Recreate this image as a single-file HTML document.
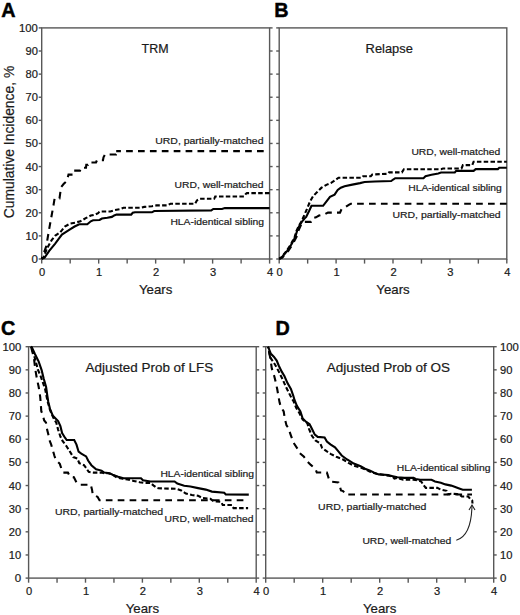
<!DOCTYPE html>
<html><head><meta charset="utf-8"><style>
html,body{margin:0;padding:0;background:#fff;}
svg{display:block;font-family:"Liberation Sans", sans-serif;}
</style></head><body>
<svg width="520" height="615" viewBox="0 0 520 615">
<rect width="520" height="615" fill="#fff"/>
<rect x="41.70" y="27.90" width="227.90" height="231.10" fill="none" stroke="#585858" stroke-width="1.4"/>
<line x1="38.70" y1="259.00" x2="41.70" y2="259.00" stroke="#585858" stroke-width="1.4"/>
<line x1="269.60" y1="259.00" x2="272.60" y2="259.00" stroke="#585858" stroke-width="1.4"/>
<line x1="38.70" y1="235.89" x2="41.70" y2="235.89" stroke="#585858" stroke-width="1.4"/>
<line x1="269.60" y1="235.89" x2="272.60" y2="235.89" stroke="#585858" stroke-width="1.4"/>
<line x1="38.70" y1="212.78" x2="41.70" y2="212.78" stroke="#585858" stroke-width="1.4"/>
<line x1="269.60" y1="212.78" x2="272.60" y2="212.78" stroke="#585858" stroke-width="1.4"/>
<line x1="38.70" y1="189.67" x2="41.70" y2="189.67" stroke="#585858" stroke-width="1.4"/>
<line x1="269.60" y1="189.67" x2="272.60" y2="189.67" stroke="#585858" stroke-width="1.4"/>
<line x1="38.70" y1="166.56" x2="41.70" y2="166.56" stroke="#585858" stroke-width="1.4"/>
<line x1="269.60" y1="166.56" x2="272.60" y2="166.56" stroke="#585858" stroke-width="1.4"/>
<line x1="38.70" y1="143.45" x2="41.70" y2="143.45" stroke="#585858" stroke-width="1.4"/>
<line x1="269.60" y1="143.45" x2="272.60" y2="143.45" stroke="#585858" stroke-width="1.4"/>
<line x1="38.70" y1="120.34" x2="41.70" y2="120.34" stroke="#585858" stroke-width="1.4"/>
<line x1="269.60" y1="120.34" x2="272.60" y2="120.34" stroke="#585858" stroke-width="1.4"/>
<line x1="38.70" y1="97.23" x2="41.70" y2="97.23" stroke="#585858" stroke-width="1.4"/>
<line x1="269.60" y1="97.23" x2="272.60" y2="97.23" stroke="#585858" stroke-width="1.4"/>
<line x1="38.70" y1="74.12" x2="41.70" y2="74.12" stroke="#585858" stroke-width="1.4"/>
<line x1="269.60" y1="74.12" x2="272.60" y2="74.12" stroke="#585858" stroke-width="1.4"/>
<line x1="38.70" y1="51.01" x2="41.70" y2="51.01" stroke="#585858" stroke-width="1.4"/>
<line x1="269.60" y1="51.01" x2="272.60" y2="51.01" stroke="#585858" stroke-width="1.4"/>
<line x1="38.70" y1="27.90" x2="41.70" y2="27.90" stroke="#585858" stroke-width="1.4"/>
<line x1="269.60" y1="27.90" x2="272.60" y2="27.90" stroke="#585858" stroke-width="1.4"/>
<line x1="41.70" y1="259.00" x2="41.70" y2="263.60" stroke="#585858" stroke-width="1.4"/>
<line x1="70.19" y1="259.00" x2="70.19" y2="263.60" stroke="#585858" stroke-width="1.4"/>
<line x1="98.68" y1="259.00" x2="98.68" y2="263.60" stroke="#585858" stroke-width="1.4"/>
<line x1="127.16" y1="259.00" x2="127.16" y2="263.60" stroke="#585858" stroke-width="1.4"/>
<line x1="155.65" y1="259.00" x2="155.65" y2="263.60" stroke="#585858" stroke-width="1.4"/>
<line x1="184.14" y1="259.00" x2="184.14" y2="263.60" stroke="#585858" stroke-width="1.4"/>
<line x1="212.62" y1="259.00" x2="212.62" y2="263.60" stroke="#585858" stroke-width="1.4"/>
<line x1="241.11" y1="259.00" x2="241.11" y2="263.60" stroke="#585858" stroke-width="1.4"/>
<line x1="269.60" y1="259.00" x2="269.60" y2="263.60" stroke="#585858" stroke-width="1.4"/>
<rect x="279.20" y="27.90" width="227.60" height="231.10" fill="none" stroke="#585858" stroke-width="1.4"/>
<line x1="276.20" y1="259.00" x2="279.20" y2="259.00" stroke="#585858" stroke-width="1.4"/>
<line x1="276.20" y1="235.89" x2="279.20" y2="235.89" stroke="#585858" stroke-width="1.4"/>
<line x1="276.20" y1="212.78" x2="279.20" y2="212.78" stroke="#585858" stroke-width="1.4"/>
<line x1="276.20" y1="189.67" x2="279.20" y2="189.67" stroke="#585858" stroke-width="1.4"/>
<line x1="276.20" y1="166.56" x2="279.20" y2="166.56" stroke="#585858" stroke-width="1.4"/>
<line x1="276.20" y1="143.45" x2="279.20" y2="143.45" stroke="#585858" stroke-width="1.4"/>
<line x1="276.20" y1="120.34" x2="279.20" y2="120.34" stroke="#585858" stroke-width="1.4"/>
<line x1="276.20" y1="97.23" x2="279.20" y2="97.23" stroke="#585858" stroke-width="1.4"/>
<line x1="276.20" y1="74.12" x2="279.20" y2="74.12" stroke="#585858" stroke-width="1.4"/>
<line x1="276.20" y1="51.01" x2="279.20" y2="51.01" stroke="#585858" stroke-width="1.4"/>
<line x1="276.20" y1="27.90" x2="279.20" y2="27.90" stroke="#585858" stroke-width="1.4"/>
<line x1="279.20" y1="259.00" x2="279.20" y2="263.60" stroke="#585858" stroke-width="1.4"/>
<line x1="307.65" y1="259.00" x2="307.65" y2="263.60" stroke="#585858" stroke-width="1.4"/>
<line x1="336.10" y1="259.00" x2="336.10" y2="263.60" stroke="#585858" stroke-width="1.4"/>
<line x1="364.55" y1="259.00" x2="364.55" y2="263.60" stroke="#585858" stroke-width="1.4"/>
<line x1="393.00" y1="259.00" x2="393.00" y2="263.60" stroke="#585858" stroke-width="1.4"/>
<line x1="421.45" y1="259.00" x2="421.45" y2="263.60" stroke="#585858" stroke-width="1.4"/>
<line x1="449.90" y1="259.00" x2="449.90" y2="263.60" stroke="#585858" stroke-width="1.4"/>
<line x1="478.35" y1="259.00" x2="478.35" y2="263.60" stroke="#585858" stroke-width="1.4"/>
<line x1="506.80" y1="259.00" x2="506.80" y2="263.60" stroke="#585858" stroke-width="1.4"/>
<rect x="28.60" y="346.70" width="227.60" height="231.40" fill="none" stroke="#585858" stroke-width="1.4"/>
<line x1="25.60" y1="578.10" x2="28.60" y2="578.10" stroke="#585858" stroke-width="1.4"/>
<line x1="256.20" y1="578.10" x2="259.20" y2="578.10" stroke="#585858" stroke-width="1.4"/>
<line x1="25.60" y1="554.96" x2="28.60" y2="554.96" stroke="#585858" stroke-width="1.4"/>
<line x1="256.20" y1="554.96" x2="259.20" y2="554.96" stroke="#585858" stroke-width="1.4"/>
<line x1="25.60" y1="531.82" x2="28.60" y2="531.82" stroke="#585858" stroke-width="1.4"/>
<line x1="256.20" y1="531.82" x2="259.20" y2="531.82" stroke="#585858" stroke-width="1.4"/>
<line x1="25.60" y1="508.68" x2="28.60" y2="508.68" stroke="#585858" stroke-width="1.4"/>
<line x1="256.20" y1="508.68" x2="259.20" y2="508.68" stroke="#585858" stroke-width="1.4"/>
<line x1="25.60" y1="485.54" x2="28.60" y2="485.54" stroke="#585858" stroke-width="1.4"/>
<line x1="256.20" y1="485.54" x2="259.20" y2="485.54" stroke="#585858" stroke-width="1.4"/>
<line x1="25.60" y1="462.40" x2="28.60" y2="462.40" stroke="#585858" stroke-width="1.4"/>
<line x1="256.20" y1="462.40" x2="259.20" y2="462.40" stroke="#585858" stroke-width="1.4"/>
<line x1="25.60" y1="439.26" x2="28.60" y2="439.26" stroke="#585858" stroke-width="1.4"/>
<line x1="256.20" y1="439.26" x2="259.20" y2="439.26" stroke="#585858" stroke-width="1.4"/>
<line x1="25.60" y1="416.12" x2="28.60" y2="416.12" stroke="#585858" stroke-width="1.4"/>
<line x1="256.20" y1="416.12" x2="259.20" y2="416.12" stroke="#585858" stroke-width="1.4"/>
<line x1="25.60" y1="392.98" x2="28.60" y2="392.98" stroke="#585858" stroke-width="1.4"/>
<line x1="256.20" y1="392.98" x2="259.20" y2="392.98" stroke="#585858" stroke-width="1.4"/>
<line x1="25.60" y1="369.84" x2="28.60" y2="369.84" stroke="#585858" stroke-width="1.4"/>
<line x1="256.20" y1="369.84" x2="259.20" y2="369.84" stroke="#585858" stroke-width="1.4"/>
<line x1="25.60" y1="346.70" x2="28.60" y2="346.70" stroke="#585858" stroke-width="1.4"/>
<line x1="256.20" y1="346.70" x2="259.20" y2="346.70" stroke="#585858" stroke-width="1.4"/>
<line x1="28.60" y1="578.10" x2="28.60" y2="582.70" stroke="#585858" stroke-width="1.4"/>
<line x1="57.05" y1="578.10" x2="57.05" y2="582.70" stroke="#585858" stroke-width="1.4"/>
<line x1="85.50" y1="578.10" x2="85.50" y2="582.70" stroke="#585858" stroke-width="1.4"/>
<line x1="113.95" y1="578.10" x2="113.95" y2="582.70" stroke="#585858" stroke-width="1.4"/>
<line x1="142.40" y1="578.10" x2="142.40" y2="582.70" stroke="#585858" stroke-width="1.4"/>
<line x1="170.85" y1="578.10" x2="170.85" y2="582.70" stroke="#585858" stroke-width="1.4"/>
<line x1="199.30" y1="578.10" x2="199.30" y2="582.70" stroke="#585858" stroke-width="1.4"/>
<line x1="227.75" y1="578.10" x2="227.75" y2="582.70" stroke="#585858" stroke-width="1.4"/>
<line x1="256.20" y1="578.10" x2="256.20" y2="582.70" stroke="#585858" stroke-width="1.4"/>
<rect x="265.70" y="346.70" width="228.00" height="231.40" fill="none" stroke="#585858" stroke-width="1.4"/>
<line x1="262.70" y1="578.10" x2="265.70" y2="578.10" stroke="#585858" stroke-width="1.4"/>
<line x1="493.70" y1="578.10" x2="496.70" y2="578.10" stroke="#585858" stroke-width="1.4"/>
<line x1="262.70" y1="554.96" x2="265.70" y2="554.96" stroke="#585858" stroke-width="1.4"/>
<line x1="493.70" y1="554.96" x2="496.70" y2="554.96" stroke="#585858" stroke-width="1.4"/>
<line x1="262.70" y1="531.82" x2="265.70" y2="531.82" stroke="#585858" stroke-width="1.4"/>
<line x1="493.70" y1="531.82" x2="496.70" y2="531.82" stroke="#585858" stroke-width="1.4"/>
<line x1="262.70" y1="508.68" x2="265.70" y2="508.68" stroke="#585858" stroke-width="1.4"/>
<line x1="493.70" y1="508.68" x2="496.70" y2="508.68" stroke="#585858" stroke-width="1.4"/>
<line x1="262.70" y1="485.54" x2="265.70" y2="485.54" stroke="#585858" stroke-width="1.4"/>
<line x1="493.70" y1="485.54" x2="496.70" y2="485.54" stroke="#585858" stroke-width="1.4"/>
<line x1="262.70" y1="462.40" x2="265.70" y2="462.40" stroke="#585858" stroke-width="1.4"/>
<line x1="493.70" y1="462.40" x2="496.70" y2="462.40" stroke="#585858" stroke-width="1.4"/>
<line x1="262.70" y1="439.26" x2="265.70" y2="439.26" stroke="#585858" stroke-width="1.4"/>
<line x1="493.70" y1="439.26" x2="496.70" y2="439.26" stroke="#585858" stroke-width="1.4"/>
<line x1="262.70" y1="416.12" x2="265.70" y2="416.12" stroke="#585858" stroke-width="1.4"/>
<line x1="493.70" y1="416.12" x2="496.70" y2="416.12" stroke="#585858" stroke-width="1.4"/>
<line x1="262.70" y1="392.98" x2="265.70" y2="392.98" stroke="#585858" stroke-width="1.4"/>
<line x1="493.70" y1="392.98" x2="496.70" y2="392.98" stroke="#585858" stroke-width="1.4"/>
<line x1="262.70" y1="369.84" x2="265.70" y2="369.84" stroke="#585858" stroke-width="1.4"/>
<line x1="493.70" y1="369.84" x2="496.70" y2="369.84" stroke="#585858" stroke-width="1.4"/>
<line x1="262.70" y1="346.70" x2="265.70" y2="346.70" stroke="#585858" stroke-width="1.4"/>
<line x1="493.70" y1="346.70" x2="496.70" y2="346.70" stroke="#585858" stroke-width="1.4"/>
<line x1="265.70" y1="578.10" x2="265.70" y2="582.70" stroke="#585858" stroke-width="1.4"/>
<line x1="294.20" y1="578.10" x2="294.20" y2="582.70" stroke="#585858" stroke-width="1.4"/>
<line x1="322.70" y1="578.10" x2="322.70" y2="582.70" stroke="#585858" stroke-width="1.4"/>
<line x1="351.20" y1="578.10" x2="351.20" y2="582.70" stroke="#585858" stroke-width="1.4"/>
<line x1="379.70" y1="578.10" x2="379.70" y2="582.70" stroke="#585858" stroke-width="1.4"/>
<line x1="408.20" y1="578.10" x2="408.20" y2="582.70" stroke="#585858" stroke-width="1.4"/>
<line x1="436.70" y1="578.10" x2="436.70" y2="582.70" stroke="#585858" stroke-width="1.4"/>
<line x1="465.20" y1="578.10" x2="465.20" y2="582.70" stroke="#585858" stroke-width="1.4"/>
<line x1="493.70" y1="578.10" x2="493.70" y2="582.70" stroke="#585858" stroke-width="1.4"/>
<text x="37.90" y="263.00" font-size="10.3" text-anchor="end" font-weight="normal" fill="#1a1a1a" stroke="#1a1a1a" stroke-width="0.2" textLength="6.4" lengthAdjust="spacingAndGlyphs">0</text>
<text x="37.90" y="239.89" font-size="10.3" text-anchor="end" font-weight="normal" fill="#1a1a1a" stroke="#1a1a1a" stroke-width="0.2" textLength="12.4" lengthAdjust="spacingAndGlyphs">10</text>
<text x="37.90" y="216.78" font-size="10.3" text-anchor="end" font-weight="normal" fill="#1a1a1a" stroke="#1a1a1a" stroke-width="0.2" textLength="12.4" lengthAdjust="spacingAndGlyphs">20</text>
<text x="37.90" y="193.67" font-size="10.3" text-anchor="end" font-weight="normal" fill="#1a1a1a" stroke="#1a1a1a" stroke-width="0.2" textLength="12.4" lengthAdjust="spacingAndGlyphs">30</text>
<text x="37.90" y="170.56" font-size="10.3" text-anchor="end" font-weight="normal" fill="#1a1a1a" stroke="#1a1a1a" stroke-width="0.2" textLength="12.4" lengthAdjust="spacingAndGlyphs">40</text>
<text x="37.90" y="147.45" font-size="10.3" text-anchor="end" font-weight="normal" fill="#1a1a1a" stroke="#1a1a1a" stroke-width="0.2" textLength="12.4" lengthAdjust="spacingAndGlyphs">50</text>
<text x="37.90" y="124.34" font-size="10.3" text-anchor="end" font-weight="normal" fill="#1a1a1a" stroke="#1a1a1a" stroke-width="0.2" textLength="12.4" lengthAdjust="spacingAndGlyphs">60</text>
<text x="37.90" y="101.23" font-size="10.3" text-anchor="end" font-weight="normal" fill="#1a1a1a" stroke="#1a1a1a" stroke-width="0.2" textLength="12.4" lengthAdjust="spacingAndGlyphs">70</text>
<text x="37.90" y="78.12" font-size="10.3" text-anchor="end" font-weight="normal" fill="#1a1a1a" stroke="#1a1a1a" stroke-width="0.2" textLength="12.4" lengthAdjust="spacingAndGlyphs">80</text>
<text x="37.90" y="55.01" font-size="10.3" text-anchor="end" font-weight="normal" fill="#1a1a1a" stroke="#1a1a1a" stroke-width="0.2" textLength="12.4" lengthAdjust="spacingAndGlyphs">90</text>
<text x="37.90" y="31.90" font-size="10.3" text-anchor="end" font-weight="normal" fill="#1a1a1a" stroke="#1a1a1a" stroke-width="0.2" textLength="18.8" lengthAdjust="spacingAndGlyphs">100</text>
<text x="21.20" y="582.10" font-size="10.3" text-anchor="end" font-weight="normal" fill="#1a1a1a" stroke="#1a1a1a" stroke-width="0.2" textLength="6.4" lengthAdjust="spacingAndGlyphs">0</text>
<text x="21.20" y="558.96" font-size="10.3" text-anchor="end" font-weight="normal" fill="#1a1a1a" stroke="#1a1a1a" stroke-width="0.2" textLength="12.4" lengthAdjust="spacingAndGlyphs">10</text>
<text x="21.20" y="535.82" font-size="10.3" text-anchor="end" font-weight="normal" fill="#1a1a1a" stroke="#1a1a1a" stroke-width="0.2" textLength="12.4" lengthAdjust="spacingAndGlyphs">20</text>
<text x="21.20" y="512.68" font-size="10.3" text-anchor="end" font-weight="normal" fill="#1a1a1a" stroke="#1a1a1a" stroke-width="0.2" textLength="12.4" lengthAdjust="spacingAndGlyphs">30</text>
<text x="21.20" y="489.54" font-size="10.3" text-anchor="end" font-weight="normal" fill="#1a1a1a" stroke="#1a1a1a" stroke-width="0.2" textLength="12.4" lengthAdjust="spacingAndGlyphs">40</text>
<text x="21.20" y="466.40" font-size="10.3" text-anchor="end" font-weight="normal" fill="#1a1a1a" stroke="#1a1a1a" stroke-width="0.2" textLength="12.4" lengthAdjust="spacingAndGlyphs">50</text>
<text x="21.20" y="443.26" font-size="10.3" text-anchor="end" font-weight="normal" fill="#1a1a1a" stroke="#1a1a1a" stroke-width="0.2" textLength="12.4" lengthAdjust="spacingAndGlyphs">60</text>
<text x="21.20" y="420.12" font-size="10.3" text-anchor="end" font-weight="normal" fill="#1a1a1a" stroke="#1a1a1a" stroke-width="0.2" textLength="12.4" lengthAdjust="spacingAndGlyphs">70</text>
<text x="21.20" y="396.98" font-size="10.3" text-anchor="end" font-weight="normal" fill="#1a1a1a" stroke="#1a1a1a" stroke-width="0.2" textLength="12.4" lengthAdjust="spacingAndGlyphs">80</text>
<text x="21.20" y="373.84" font-size="10.3" text-anchor="end" font-weight="normal" fill="#1a1a1a" stroke="#1a1a1a" stroke-width="0.2" textLength="12.4" lengthAdjust="spacingAndGlyphs">90</text>
<text x="21.20" y="350.70" font-size="10.3" text-anchor="end" font-weight="normal" fill="#1a1a1a" stroke="#1a1a1a" stroke-width="0.2" textLength="18.8" lengthAdjust="spacingAndGlyphs">100</text>
<text x="500.00" y="582.10" font-size="10.3" text-anchor="start" font-weight="normal" fill="#1a1a1a" stroke="#1a1a1a" stroke-width="0.2" textLength="6.4" lengthAdjust="spacingAndGlyphs">0</text>
<text x="500.00" y="558.96" font-size="10.3" text-anchor="start" font-weight="normal" fill="#1a1a1a" stroke="#1a1a1a" stroke-width="0.2" textLength="12.4" lengthAdjust="spacingAndGlyphs">10</text>
<text x="500.00" y="535.82" font-size="10.3" text-anchor="start" font-weight="normal" fill="#1a1a1a" stroke="#1a1a1a" stroke-width="0.2" textLength="12.4" lengthAdjust="spacingAndGlyphs">20</text>
<text x="500.00" y="512.68" font-size="10.3" text-anchor="start" font-weight="normal" fill="#1a1a1a" stroke="#1a1a1a" stroke-width="0.2" textLength="12.4" lengthAdjust="spacingAndGlyphs">30</text>
<text x="500.00" y="489.54" font-size="10.3" text-anchor="start" font-weight="normal" fill="#1a1a1a" stroke="#1a1a1a" stroke-width="0.2" textLength="12.4" lengthAdjust="spacingAndGlyphs">40</text>
<text x="500.00" y="466.40" font-size="10.3" text-anchor="start" font-weight="normal" fill="#1a1a1a" stroke="#1a1a1a" stroke-width="0.2" textLength="12.4" lengthAdjust="spacingAndGlyphs">50</text>
<text x="500.00" y="443.26" font-size="10.3" text-anchor="start" font-weight="normal" fill="#1a1a1a" stroke="#1a1a1a" stroke-width="0.2" textLength="12.4" lengthAdjust="spacingAndGlyphs">60</text>
<text x="500.00" y="420.12" font-size="10.3" text-anchor="start" font-weight="normal" fill="#1a1a1a" stroke="#1a1a1a" stroke-width="0.2" textLength="12.4" lengthAdjust="spacingAndGlyphs">70</text>
<text x="500.00" y="396.98" font-size="10.3" text-anchor="start" font-weight="normal" fill="#1a1a1a" stroke="#1a1a1a" stroke-width="0.2" textLength="12.4" lengthAdjust="spacingAndGlyphs">80</text>
<text x="500.00" y="373.84" font-size="10.3" text-anchor="start" font-weight="normal" fill="#1a1a1a" stroke="#1a1a1a" stroke-width="0.2" textLength="12.4" lengthAdjust="spacingAndGlyphs">90</text>
<text x="500.00" y="350.70" font-size="10.3" text-anchor="start" font-weight="normal" fill="#1a1a1a" stroke="#1a1a1a" stroke-width="0.2" textLength="18.8" lengthAdjust="spacingAndGlyphs">100</text>
<text x="42.20" y="275.90" font-size="10.3" text-anchor="middle" font-weight="normal" fill="#1a1a1a" stroke="#1a1a1a" stroke-width="0.2" textLength="6.2" lengthAdjust="spacingAndGlyphs">0</text>
<text x="99.18" y="275.90" font-size="10.3" text-anchor="middle" font-weight="normal" fill="#1a1a1a" stroke="#1a1a1a" stroke-width="0.2" textLength="6.2" lengthAdjust="spacingAndGlyphs">1</text>
<text x="156.15" y="275.90" font-size="10.3" text-anchor="middle" font-weight="normal" fill="#1a1a1a" stroke="#1a1a1a" stroke-width="0.2" textLength="6.2" lengthAdjust="spacingAndGlyphs">2</text>
<text x="213.12" y="275.90" font-size="10.3" text-anchor="middle" font-weight="normal" fill="#1a1a1a" stroke="#1a1a1a" stroke-width="0.2" textLength="6.2" lengthAdjust="spacingAndGlyphs">3</text>
<text x="270.10" y="275.90" font-size="10.3" text-anchor="middle" font-weight="normal" fill="#1a1a1a" stroke="#1a1a1a" stroke-width="0.2" textLength="6.2" lengthAdjust="spacingAndGlyphs">4</text>
<text x="279.70" y="275.90" font-size="10.3" text-anchor="middle" font-weight="normal" fill="#1a1a1a" stroke="#1a1a1a" stroke-width="0.2" textLength="6.2" lengthAdjust="spacingAndGlyphs">0</text>
<text x="336.60" y="275.90" font-size="10.3" text-anchor="middle" font-weight="normal" fill="#1a1a1a" stroke="#1a1a1a" stroke-width="0.2" textLength="6.2" lengthAdjust="spacingAndGlyphs">1</text>
<text x="393.50" y="275.90" font-size="10.3" text-anchor="middle" font-weight="normal" fill="#1a1a1a" stroke="#1a1a1a" stroke-width="0.2" textLength="6.2" lengthAdjust="spacingAndGlyphs">2</text>
<text x="450.40" y="275.90" font-size="10.3" text-anchor="middle" font-weight="normal" fill="#1a1a1a" stroke="#1a1a1a" stroke-width="0.2" textLength="6.2" lengthAdjust="spacingAndGlyphs">3</text>
<text x="507.30" y="275.90" font-size="10.3" text-anchor="middle" font-weight="normal" fill="#1a1a1a" stroke="#1a1a1a" stroke-width="0.2" textLength="6.2" lengthAdjust="spacingAndGlyphs">4</text>
<text x="29.10" y="594.80" font-size="10.3" text-anchor="middle" font-weight="normal" fill="#1a1a1a" stroke="#1a1a1a" stroke-width="0.2" textLength="6.2" lengthAdjust="spacingAndGlyphs">0</text>
<text x="86.00" y="594.80" font-size="10.3" text-anchor="middle" font-weight="normal" fill="#1a1a1a" stroke="#1a1a1a" stroke-width="0.2" textLength="6.2" lengthAdjust="spacingAndGlyphs">1</text>
<text x="142.90" y="594.80" font-size="10.3" text-anchor="middle" font-weight="normal" fill="#1a1a1a" stroke="#1a1a1a" stroke-width="0.2" textLength="6.2" lengthAdjust="spacingAndGlyphs">2</text>
<text x="199.80" y="594.80" font-size="10.3" text-anchor="middle" font-weight="normal" fill="#1a1a1a" stroke="#1a1a1a" stroke-width="0.2" textLength="6.2" lengthAdjust="spacingAndGlyphs">3</text>
<text x="256.70" y="594.80" font-size="10.3" text-anchor="middle" font-weight="normal" fill="#1a1a1a" stroke="#1a1a1a" stroke-width="0.2" textLength="6.2" lengthAdjust="spacingAndGlyphs">4</text>
<text x="266.20" y="594.80" font-size="10.3" text-anchor="middle" font-weight="normal" fill="#1a1a1a" stroke="#1a1a1a" stroke-width="0.2" textLength="6.2" lengthAdjust="spacingAndGlyphs">0</text>
<text x="323.20" y="594.80" font-size="10.3" text-anchor="middle" font-weight="normal" fill="#1a1a1a" stroke="#1a1a1a" stroke-width="0.2" textLength="6.2" lengthAdjust="spacingAndGlyphs">1</text>
<text x="380.20" y="594.80" font-size="10.3" text-anchor="middle" font-weight="normal" fill="#1a1a1a" stroke="#1a1a1a" stroke-width="0.2" textLength="6.2" lengthAdjust="spacingAndGlyphs">2</text>
<text x="437.20" y="594.80" font-size="10.3" text-anchor="middle" font-weight="normal" fill="#1a1a1a" stroke="#1a1a1a" stroke-width="0.2" textLength="6.2" lengthAdjust="spacingAndGlyphs">3</text>
<text x="494.20" y="594.80" font-size="10.3" text-anchor="middle" font-weight="normal" fill="#1a1a1a" stroke="#1a1a1a" stroke-width="0.2" textLength="6.2" lengthAdjust="spacingAndGlyphs">4</text>
<text x="155.65" y="294.10" font-size="12.4" text-anchor="middle" font-weight="normal" fill="#1a1a1a" stroke="#1a1a1a" stroke-width="0.2" textLength="33.4" lengthAdjust="spacingAndGlyphs">Years</text>
<text x="393.00" y="294.10" font-size="12.4" text-anchor="middle" font-weight="normal" fill="#1a1a1a" stroke="#1a1a1a" stroke-width="0.2" textLength="33.4" lengthAdjust="spacingAndGlyphs">Years</text>
<text x="142.40" y="612.70" font-size="12.4" text-anchor="middle" font-weight="normal" fill="#1a1a1a" stroke="#1a1a1a" stroke-width="0.2" textLength="33.4" lengthAdjust="spacingAndGlyphs">Years</text>
<text x="379.70" y="612.70" font-size="12.4" text-anchor="middle" font-weight="normal" fill="#1a1a1a" stroke="#1a1a1a" stroke-width="0.2" textLength="33.4" lengthAdjust="spacingAndGlyphs">Years</text>
<text x="1.20" y="16.70" font-size="19.8" text-anchor="start" font-weight="bold" fill="#000" stroke="#000" stroke-width="0.45">A</text>
<text x="274.20" y="16.70" font-size="19.8" text-anchor="start" font-weight="bold" fill="#000" stroke="#000" stroke-width="0.45">B</text>
<text x="1.00" y="334.80" font-size="19.8" text-anchor="start" font-weight="bold" fill="#000" stroke="#000" stroke-width="0.45">C</text>
<text x="275.40" y="334.80" font-size="19.8" text-anchor="start" font-weight="bold" fill="#000" stroke="#000" stroke-width="0.45">D</text>
<text x="141.60" y="52.60" font-size="12.6" text-anchor="start" font-weight="normal" fill="#1a1a1a" stroke="#1a1a1a" stroke-width="0.2" textLength="27.0" lengthAdjust="spacingAndGlyphs">TRM</text>
<text x="365.60" y="52.50" font-size="12.6" text-anchor="start" font-weight="normal" fill="#1a1a1a" stroke="#1a1a1a" stroke-width="0.2" textLength="47.2" lengthAdjust="spacingAndGlyphs">Relapse</text>
<text x="85.50" y="371.50" font-size="12.6" text-anchor="start" font-weight="normal" fill="#1a1a1a" stroke="#1a1a1a" stroke-width="0.2" textLength="127.7" lengthAdjust="spacingAndGlyphs">Adjusted Prob of LFS</text>
<text x="326.80" y="371.50" font-size="12.6" text-anchor="start" font-weight="normal" fill="#1a1a1a" stroke="#1a1a1a" stroke-width="0.2" textLength="123.3" lengthAdjust="spacingAndGlyphs">Adjusted Prob of OS</text>
<text transform="translate(14.4,218.3) rotate(-90)" x="0" y="0" font-size="13.8" fill="#1a1a1a" stroke="#1a1a1a" stroke-width="0.2" textLength="152.5" lengthAdjust="spacingAndGlyphs">Cumulative Incidence, %</text>
<text x="155.20" y="143.50" font-size="9.3" text-anchor="start" font-weight="normal" fill="#1a1a1a" stroke="#1a1a1a" stroke-width="0.2" textLength="108.3" lengthAdjust="spacingAndGlyphs">URD, partially-matched</text>
<text x="174.60" y="188.00" font-size="9.3" text-anchor="start" font-weight="normal" fill="#1a1a1a" stroke="#1a1a1a" stroke-width="0.2" textLength="88.9" lengthAdjust="spacingAndGlyphs">URD, well-matched</text>
<text x="170.40" y="225.00" font-size="9.3" text-anchor="start" font-weight="normal" fill="#1a1a1a" stroke="#1a1a1a" stroke-width="0.2" textLength="93.6" lengthAdjust="spacingAndGlyphs">HLA-identical sibling</text>
<text x="411.40" y="154.50" font-size="9.3" text-anchor="start" font-weight="normal" fill="#1a1a1a" stroke="#1a1a1a" stroke-width="0.2" textLength="88.9" lengthAdjust="spacingAndGlyphs">URD, well-matched</text>
<text x="408.20" y="191.30" font-size="9.3" text-anchor="start" font-weight="normal" fill="#1a1a1a" stroke="#1a1a1a" stroke-width="0.2" textLength="93.6" lengthAdjust="spacingAndGlyphs">HLA-identical sibling</text>
<text x="392.40" y="218.00" font-size="9.3" text-anchor="start" font-weight="normal" fill="#1a1a1a" stroke="#1a1a1a" stroke-width="0.2" textLength="108.3" lengthAdjust="spacingAndGlyphs">URD, partially-matched</text>
<text x="160.40" y="476.50" font-size="9.3" text-anchor="start" font-weight="normal" fill="#1a1a1a" stroke="#1a1a1a" stroke-width="0.2" textLength="93.6" lengthAdjust="spacingAndGlyphs">HLA-identical sibling</text>
<text x="54.90" y="514.50" font-size="9.3" text-anchor="start" font-weight="normal" fill="#1a1a1a" stroke="#1a1a1a" stroke-width="0.2" textLength="108.3" lengthAdjust="spacingAndGlyphs">URD, partially-matched</text>
<text x="164.60" y="522.40" font-size="9.3" text-anchor="start" font-weight="normal" fill="#1a1a1a" stroke="#1a1a1a" stroke-width="0.2" textLength="88.9" lengthAdjust="spacingAndGlyphs">URD, well-matched</text>
<text x="396.80" y="471.30" font-size="9.3" text-anchor="start" font-weight="normal" fill="#1a1a1a" stroke="#1a1a1a" stroke-width="0.2" textLength="93.6" lengthAdjust="spacingAndGlyphs">HLA-identical sibling</text>
<text x="318.10" y="510.40" font-size="9.3" text-anchor="start" font-weight="normal" fill="#1a1a1a" stroke="#1a1a1a" stroke-width="0.2" textLength="108.3" lengthAdjust="spacingAndGlyphs">URD, partially-matched</text>
<text x="362.40" y="544.20" font-size="9.3" text-anchor="start" font-weight="normal" fill="#1a1a1a" stroke="#1a1a1a" stroke-width="0.2" textLength="88.9" lengthAdjust="spacingAndGlyphs">URD, well-matched</text>
<path d="M456.3,540.2 C466,537.5 471.5,528 472,505.5" fill="none" stroke="#222" stroke-width="1.1"/>
<path d="M469,510 L472,505 L475,510" fill="none" stroke="#222" stroke-width="1.1"/>
<path d="M41.7,258.8 L46.3,246.2 L49.2,228.8 L51.5,216.2 L53.6,204.6 L54.6,198.5 L59.5,198.5 L60.4,191.9 L61.0,187.3 L63.8,183.8 L66.2,181.5 L67.9,176.9 L68.5,174.6 L73.0,174.6 L73.5,170.6 L80.0,170.6 L81.0,167.7 L86.0,167.7 L86.3,164.8 L88.0,164.8 L88.5,162.5 L96.0,162.5 L97.0,160.2 L103.0,160.2 L103.5,157.3 L105.0,154.5 L116.0,154.5 L116.2,151.1" fill="none" stroke="#000" stroke-width="2.1" stroke-linejoin="miter" stroke-dasharray="6.7,5.2" stroke-dashoffset="4.75"/>
<path d="M116.2,151.1 L268.0,151.1" fill="none" stroke="#000" stroke-width="2.1" stroke-linejoin="miter" stroke-dasharray="6.7,5.2" stroke-dashoffset="2.00"/>
<path d="M279.2,258.8 L282.3,257.5 L288.3,250.8 L292.9,243.8 L296.5,236.9 L298.2,231.2 L300.5,226.0 L303.2,221.9 L310.9,221.9 L312.5,218.2 L316.0,217.3 L319.0,215.5 L325.3,214.0 L328.0,212.6 L340.0,212.6 L341.5,209.2 L344.6,207.7 L349.2,204.6 L350.8,203.8 L506.8,203.8" fill="none" stroke="#000" stroke-width="2.1" stroke-linejoin="miter" stroke-dasharray="6.7,5.2" stroke-dashoffset="0.89"/>
<path d="M31.0,346.7 L33.9,357.7 L35.3,369.4 L36.8,378.2 L38.7,387.0 L40.2,396.8 L40.8,404.2 L41.3,411.2 L42.5,414.0 L44.2,420.4 L46.0,422.7 L47.1,429.6 L48.3,434.2 L49.4,440.0 L51.2,444.6 L52.9,450.4 L54.4,455.8 L55.8,459.8 L59.8,463.8 L61.8,469.9 L63.2,472.6 L67.9,472.6 L69.9,476.6 L73.9,477.3 L76.6,482.7 L80.0,484.7 L90.8,484.7 L92.1,490.1 L92.8,494.8 L97.5,496.8 L99.5,500.2 L243.5,500.2" fill="none" stroke="#000" stroke-width="2.1" stroke-linejoin="miter" stroke-dasharray="6.7,5.2" stroke-dashoffset="11.00"/>
<path d="M268.0,346.7 L270.4,358.7 L271.8,368.4 L274.3,376.3 L275.7,382.1 L277.2,389.0 L278.7,397.7 L279.6,402.6 L280.8,406.9 L283.7,411.5 L284.8,418.5 L286.5,425.4 L288.3,427.7 L290.6,434.6 L293.5,442.7 L298.1,449.6 L299.8,453.1 L304.0,456.8 L307.4,461.5 L310.8,464.9 L315.5,468.9 L316.8,472.5 L326.9,472.5 L328.9,479.0 L331.0,481.7 L338.4,482.4 L339.7,485.8 L341.0,490.5 L343.1,491.1 L345.8,494.5 L472.0,494.5" fill="none" stroke="#000" stroke-width="2.1" stroke-linejoin="miter" stroke-dasharray="6.7,5.2" stroke-dashoffset="6.66"/>
<path d="M41.7,258.8 L43.5,257.7 L46.9,248.5 L51.5,240.4 L55.0,235.8 L60.2,232.3 L64.8,226.5 L70.0,223.7 L75.8,222.5 L80.4,221.3 L86.2,217.9 L90.8,215.6 L95.0,214.6 L98.1,213.1 L99.6,211.5 L110.4,211.5 L115.0,210.0 L119.6,209.2 L123.5,207.7 L141.2,207.7 L144.2,206.9 L151.9,206.2 L156.5,205.4 L167.3,205.4 L170.4,203.8 L195.0,203.8 L196.9,200.4 L199.8,198.8 L214.2,198.8 L215.2,196.5 L244.0,196.5 L246.0,193.7 L246.9,193.1 L269.6,193.1" fill="none" stroke="#000" stroke-width="2.1" stroke-linejoin="miter" stroke-dasharray="4.5,2.3" stroke-dashoffset="0.42"/>
<path d="M279.2,258.8 L281.0,257.7 L286.6,250.8 L291.2,243.8 L294.7,236.9 L296.4,231.2 L298.7,226.0 L301.6,221.3 L302.8,218.5 L306.9,209.2 L310.0,201.5 L313.1,196.2 L316.9,192.3 L321.5,187.7 L326.9,184.6 L330.8,183.1 L335.4,180.0 L338.5,177.7 L361.5,177.7 L363.1,176.2 L370.8,176.2 L372.3,174.5 L387.8,173.8 L389.1,172.4 L401.9,172.4 L403.9,169.2 L441.0,169.2 L443.0,168.5 L461.5,168.5 L462.9,165.1 L472.3,165.1 L473.6,161.7 L506.8,161.7" fill="none" stroke="#000" stroke-width="2.1" stroke-linejoin="miter" stroke-dasharray="4.5,2.3" stroke-dashoffset="1.02"/>
<path d="M31.0,346.7 L34.0,355.0 L35.8,361.6 L37.8,369.4 L40.7,376.3 L43.1,383.1 L45.1,389.0 L46.5,396.0 L47.5,401.0 L50.0,410.0 L53.5,418.1 L56.3,422.7 L58.1,429.6 L60.4,436.5 L62.7,441.2 L66.2,445.8 L69.2,450.4 L73.3,457.1 L77.3,458.5 L79.3,463.2 L84.0,465.2 L86.1,467.9 L88.7,471.9 L93.5,472.6 L101.5,472.6 L104.2,473.3 L108.3,473.3 L112.3,474.6 L116.7,477.5 L122.8,478.8 L127.5,479.5 L133.6,480.9 L139.6,482.2 L145.0,482.9 L150.4,482.9 L153.7,485.6 L156.4,487.6 L158.5,488.3 L176.5,488.8 L181.2,490.4 L185.8,493.5 L191.9,495.0 L198.1,495.8 L202.7,498.1 L210.4,498.8 L213.5,501.2 L221.2,501.9 L222.7,505.0 L231.9,505.0 L233.5,508.1 L248.1,508.1" fill="none" stroke="#000" stroke-width="2.1" stroke-linejoin="miter" stroke-dasharray="4.5,2.3" stroke-dashoffset="3.56"/>
<path d="M268.0,346.7 L270.4,357.7 L273.8,362.6 L276.7,367.5 L279.6,373.3 L282.6,379.2 L285.5,386.0 L288.4,391.9 L291.4,397.7 L293.5,401.2 L296.3,408.1 L299.2,412.7 L302.7,419.6 L307.3,423.1 L309.0,428.8 L311.9,435.8 L315.4,440.4 L320.2,443.4 L322.2,448.1 L326.9,451.4 L331.0,454.1 L336.3,456.8 L343.1,459.5 L348.5,462.9 L353.8,465.6 L360.6,467.6 L365.0,469.2 L369.6,471.5 L376.5,473.8 L388.1,475.6 L392.7,476.7 L394.4,478.5 L397.3,478.0 L403.1,479.6 L413.5,479.6 L419.2,480.8 L421.2,481.5 L423.5,485.0 L425.8,487.9 L437.3,487.9 L440.8,489.6 L446.5,490.8 L447.7,494.2 L451.2,493.7 L456.9,494.0 L459.8,494.8 L461.8,496.5 L468.2,496.5 L470.3,499.0 L472.2,500.5 L472.5,503.5" fill="none" stroke="#000" stroke-width="2.1" stroke-linejoin="miter" stroke-dasharray="4.5,2.3" stroke-dashoffset="2.76"/>
<path d="M41.7,258.8 L44.6,257.7 L49.2,250.8 L55.0,243.8 L58.5,239.2 L61.9,234.6 L66.5,231.7 L70.0,229.4 L74.6,226.5 L79.2,224.2 L87.3,224.2 L90.8,221.3 L93.1,220.2 L99.6,220.0 L101.9,218.5 L107.3,217.7 L111.9,216.9 L114.2,215.4 L116.5,214.6 L131.2,214.6 L132.7,212.8 L135.0,212.3 L151.9,212.3 L154.2,211.0 L211.3,210.4 L213.3,209.0 L222.0,209.0 L224.8,208.1 L269.6,208.1" fill="none" stroke="#000" stroke-width="2.1" stroke-linejoin="miter"/>
<path d="M279.2,258.8 L281.5,257.7 L287.2,250.8 L291.8,243.8 L295.3,236.9 L297.0,231.2 L299.3,226.0 L302.2,221.3 L304.5,218.5 L306.2,216.9 L309.2,210.8 L311.5,205.8 L323.1,205.8 L326.9,200.8 L330.0,196.9 L334.6,194.6 L337.7,190.0 L340.8,187.7 L344.6,186.2 L352.3,184.6 L360.0,183.1 L364.6,182.0 L375.0,181.5 L391.2,181.0 L393.2,179.5 L395.2,178.2 L423.5,178.2 L425.5,176.2 L431.5,174.8 L438.3,173.5 L441.0,172.5 L454.8,172.5 L456.2,170.9 L473.6,170.9 L475.7,169.1 L497.9,169.1 L499.2,167.8 L506.8,167.8" fill="none" stroke="#000" stroke-width="2.1" stroke-linejoin="miter"/>
<path d="M31.0,346.7 L31.9,347.4 L34.8,353.8 L38.7,361.6 L41.7,370.4 L43.6,378.2 L46.1,387.0 L47.2,395.0 L48.3,401.9 L50.0,408.8 L52.9,415.8 L58.1,421.0 L60.4,426.2 L62.1,433.1 L65.0,437.7 L66.7,440.0 L74.2,440.0 L76.5,444.6 L78.6,451.7 L81.3,453.7 L86.1,456.4 L88.1,460.5 L91.4,465.2 L96.1,469.2 L101.5,470.6 L104.2,472.6 L109.6,473.3 L112.7,474.8 L118.1,476.8 L123.5,478.2 L141.0,478.2 L143.0,480.2 L150.4,481.5 L174.6,481.5 L177.3,483.6 L184.2,485.8 L190.4,486.5 L198.1,488.1 L205.8,489.6 L211.9,491.6 L224.2,492.7 L225.8,494.4 L248.8,494.6" fill="none" stroke="#000" stroke-width="2.1" stroke-linejoin="miter"/>
<path d="M268.0,346.7 L268.4,347.4 L270.9,353.8 L273.8,356.7 L276.7,360.6 L278.7,365.5 L281.6,371.4 L284.5,376.3 L287.5,383.1 L290.9,389.0 L293.3,395.8 L294.5,400.0 L296.9,405.8 L300.4,411.5 L302.7,418.5 L306.2,421.9 L309.6,424.2 L311.9,428.8 L314.8,434.6 L317.7,436.9 L324.6,437.5 L326.9,441.5 L330.4,444.4 L335.0,447.4 L339.0,452.1 L341.7,455.5 L347.1,459.5 L353.8,463.6 L360.6,466.2 L365.0,468.7 L369.6,470.4 L374.2,472.7 L378.8,474.4 L388.1,475.0 L392.7,476.2 L397.3,477.3 L404.2,477.9 L413.5,477.9 L415.8,479.0 L420.0,479.8 L431.5,479.8 L435.0,481.5 L440.8,482.7 L445.4,484.4 L451.2,485.6 L454.6,486.7 L459.2,488.5 L462.7,489.8 L471.9,489.8" fill="none" stroke="#000" stroke-width="2.1" stroke-linejoin="miter"/>
</svg>
</body></html>
